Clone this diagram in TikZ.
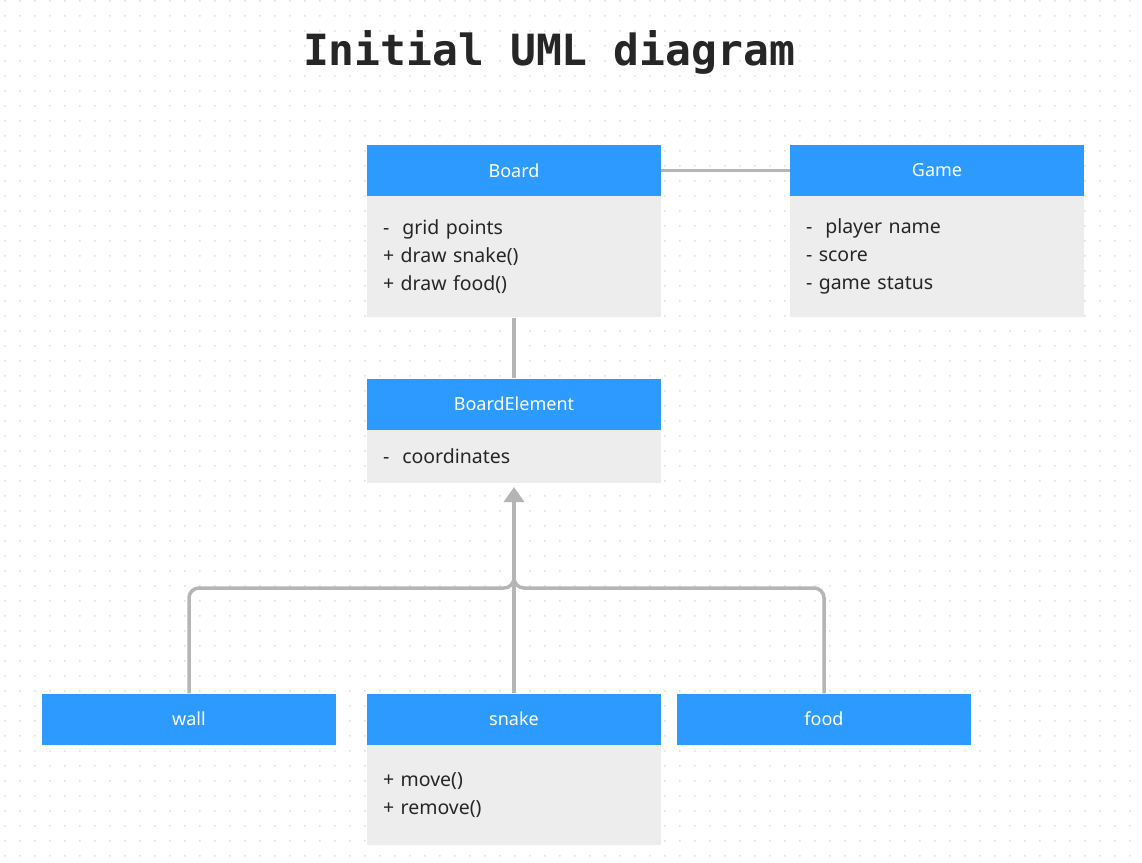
\documentclass[tikz,border=0pt]{standalone}
\usepackage{fontspec}
\setmainfont{Noto Sans}
\newfontfamily\titlefont{DejaVu Sans Mono}
\usetikzlibrary{arrows.meta,positioning}
\definecolor{hdblue}{HTML}{2C9AFF}
\definecolor{bdgrey}{HTML}{EDEDED}
\definecolor{lngrey}{HTML}{B5B5B5}
\definecolor{dotgrey}{HTML}{E0E0E0}
\definecolor{txt}{HTML}{262626}
\begin{document}
\begin{tikzpicture}[x=1pt,y=-1pt,
	head/.style={fill=hdblue,text=white,minimum width=294pt,minimum height=51pt,inner sep=0pt,font=\fontsize{18}{18}\selectfont},
	body/.style={fill=bdgrey,text=txt,minimum width=294pt,text width=262pt,align=left,inner xsep=16pt,inner ysep=0pt,anchor=north,font=\fontsize{19.5}{28}\selectfont},
	conn/.style={draw=lngrey,line width=3.5pt}]
	\fill[white] (0,0) rectangle (1142,862);
	\useasboundingbox (0,0) rectangle (1142,862);
	% dotted canvas
	\foreach \j in {0,...,57}{
		\fill[dotgrey] \foreach \i in {0,...,76}{(4+15*\i,15*\j) rectangle ++(1.5,1.5)};
	}
	\node[font=\titlefont\bfseries\fontsize{43}{43}\selectfont,text=txt] (title) at (549,52) {Initial UML diagram};
	% classes
	\node[head] (board) at (514,170.5) {Board};
	\node[body,minimum height=121pt] (boardbody) at (board.south) {-~ grid points\\+ draw snake()\\+ draw food()};
	\node[head] (game) at (937,170.5) {Game};
	\node[body,minimum height=121pt] (gamebody) at (game.south) {-~ player name\\- score\\- game status};
	\node[head] (elem) at (514,404) {BoardElement};
	\node[body,minimum height=53pt] (elembody) at (elem.south) {-~ coordinates};
	\node[head] (wall) at (189,719) {wall};
	\node[head] (snake) at (514,719) {snake};
	\node[body,minimum height=100pt] (snakebody) at (snake.south) {+ move()\\+ remove()};
	\node[head] (food) at (824,719) {food};
	% connectors
	\draw[conn] (board.east) -- (game.west);
	\draw[conn] (boardbody.south) -- (elem.north);
	\coordinate (join) at (514,588);
	\draw[conn,rounded corners=10pt] (wall.north) |- (join) -- ++(0,-20);
	\draw[conn,rounded corners=10pt] (food.north) |- (join) -- ++(0,-20);
	\draw[conn,-{Triangle[width=20pt,length=15pt]},shorten >=4pt] (snake.north) -- (elembody.south);
\end{tikzpicture}
\end{document}
